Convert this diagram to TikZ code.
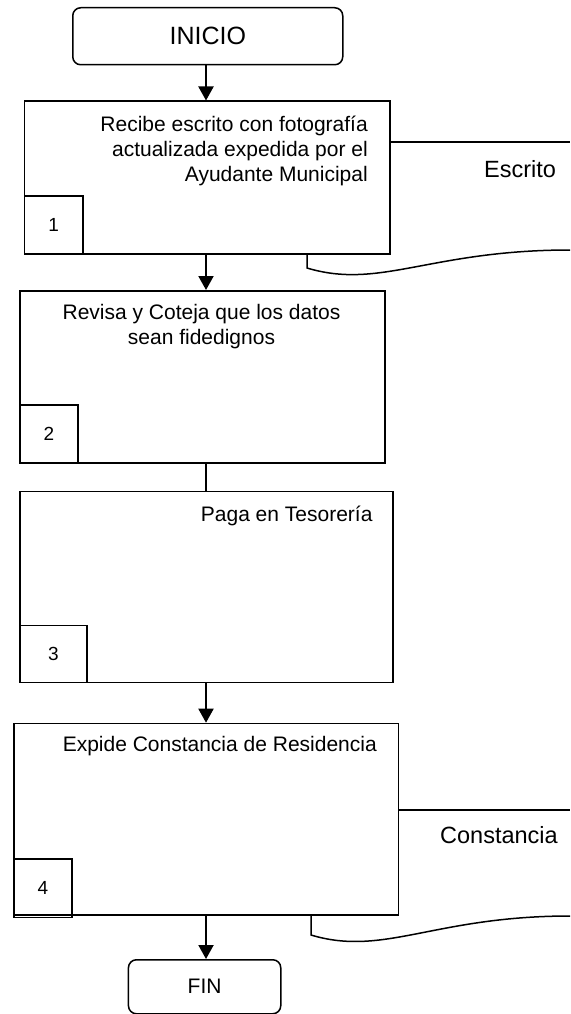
\documentclass[tikz,border=0pt]{standalone}
\usepackage{fontspec}
\setmainfont{Liberation Sans}
\usetikzlibrary{arrows.meta}

\begin{document}
\begin{tikzpicture}[x=1pt, y=-1pt,
  term/.style = {draw, rounded corners=8pt, line width=1.5pt, anchor=north west, inner sep=0pt},
  proc/.style = {draw, line width=1.6pt, anchor=north west, inner sep=0pt},
  num/.style = {draw, line width=1.6pt, anchor=south west, inner sep=0pt, font=\fontsize{19}{22}\selectfont},
  txt/.style = {inner sep=0pt, font=\fontsize{21}{25}\selectfont},
  doctxt/.style = {inner sep=0pt, anchor=base west, font=\fontsize{23.5}{28}\selectfont},
  doc/.style = {line width=1.5pt},
  flow/.style = {line width=2pt, -{Triangle[length=14pt, width=15pt]}}]
  \useasboundingbox (0,0) rectangle (570,1014);
  \coordinate (spine) at (206,0);

  \node[term, minimum width=270pt, minimum height=57pt, font=\fontsize{25}{30}\selectfont] (inicio) at (72,7) {INICIO};

  \node[proc, minimum width=365.5pt, minimum height=152.5pt] (p1) at (23.5,100.5) {};
  \node[num, minimum width=58.5pt, minimum height=58pt] (n1) at (p1.south west) {1};
  \node[txt, align=right, anchor=north east] (t1) at (368,116) {Recibe escrito con fotografía\\actualizada expedida por el\\Ayudante Municipal};

  \node[proc, minimum width=365.3pt, minimum height=172pt] (p2) at (19,290) {};
  \node[num, minimum width=58pt, minimum height=58pt] (n2) at (p2.south west) {2};
  \node[txt, align=center, anchor=north] (t2) at (201.5,304.5) {Revisa y Coteja que los datos\\sean fidedignos};

  \node[proc, minimum width=373pt, minimum height=191pt] (p3) at (19,490.7) {};
  \node[num, minimum width=67pt, minimum height=57pt] (n3) at (p3.south west) {3};
  \node[txt, anchor=north east] (t3) at (372.7,506) {Paga en Tesorería};

  \node[proc, minimum width=384.5pt, minimum height=191.3pt] (p4) at (13,722.7) {};
  \node[num, minimum width=58.3pt, minimum height=58.7pt] (n4) at ([yshift=-2.7pt]p4.south west) {4};
  \node[txt, anchor=north east] (t4) at (377,736.5) {Expide Constancia de Residencia};

  \node[term, minimum width=152.3pt, minimum height=54pt, font=\fontsize{21}{25}\selectfont] (fin) at (127.7,959) {FIN};

  \node[doctxt] (escrito) at (484,177) {Escrito};
  \node[doctxt] (constancia) at (440,843) {Constancia};

  \draw[flow] (spine |- inicio.south) -- (spine |- p1.north);
  \draw[flow] (spine |- p1.south) -- (spine |- p2.north);
  \draw[line width=2pt] (spine |- p2.south) -- (spine |- p3.north);
  \draw[flow] (spine |- p3.south) -- (spine |- p4.north);
  \draw[flow] (spine |- p4.south) -- (spine |- fin.north);

  \draw[doc] (p1.east |- 0,142) -- (570,142);
  \draw[doc] (307,253) -- (307,268) .. controls (380,290) and (430,250) .. (570,250);

  \draw[doc] (p4.east |- 0,810) -- (570,810);
  \draw[doc] (311,914) -- (311,935) .. controls (384,957) and (434,916) .. (570,916);

\end{tikzpicture}
\end{document}
